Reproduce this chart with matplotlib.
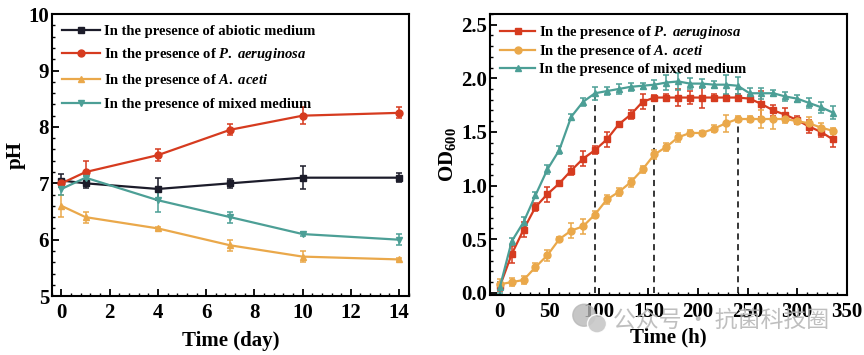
import matplotlib
matplotlib.use("Agg")
import matplotlib.pyplot as plt
from matplotlib.ticker import AutoMinorLocator
from matplotlib.patches import Ellipse

plt.rcParams['font.family'] = ['Liberation Serif', 'DejaVu Serif']
plt.rcParams['font.weight'] = 'bold'
plt.rcParams['axes.labelweight'] = 'bold'
plt.rcParams['mathtext.fontset'] = 'custom'
plt.rcParams['mathtext.rm'] = 'Liberation Serif:bold'
plt.rcParams['mathtext.it'] = 'Liberation Serif:bold:italic'
plt.rcParams['mathtext.bf'] = 'Liberation Serif:bold'
plt.rcParams['mathtext.default'] = 'rm'

BLACK = '#1c1c2a'
RED = '#d63b1f'
ORANGE = '#eaa84a'
TEAL = '#4c9f96'

# ---- pH data (left) ----
days = [0, 1, 4, 7, 10, 14]
ph_abiotic = [7.05, 7.0, 6.9, 7.0, 7.1, 7.1]
ph_abiotic_err = [0.12, 0.08, 0.2, 0.08, 0.2, 0.08]
ph_pa = [7.0, 7.2, 7.5, 7.95, 8.2, 8.25]
ph_pa_err = [0.05, 0.2, 0.1, 0.1, 0.15, 0.1]
ph_aa = [6.6, 6.4, 6.2, 5.9, 5.7, 5.65]
ph_aa_err = [0.2, 0.1, 0.03, 0.1, 0.1, 0.02]
ph_mix = [6.9, 7.1, 6.7, 6.4, 6.1, 6.0]
ph_mix_err = [0.1, 0.03, 0.2, 0.1, 0.03, 0.1]

# ---- OD600 data (right) ----
hours = [0, 12, 24, 36, 48, 60, 72, 84, 96, 108, 120, 132, 144, 156, 168,
         180, 192, 204, 216, 228, 240, 252, 264, 276, 288, 300, 312, 324, 336]
od_pa = [0.06, 0.36, 0.59, 0.80, 0.92, 1.02, 1.14, 1.25, 1.33, 1.43, 1.57, 1.66, 1.78, 1.82, 1.82,
         1.82, 1.82, 1.82, 1.82, 1.82, 1.82, 1.81, 1.76, 1.70, 1.66, 1.61, 1.55, 1.50, 1.43]
od_pa_err = [0.04, 0.08, 0.07, 0.04, 0.07, 0.02, 0.04, 0.07, 0.04, 0.07, 0.02, 0.04, 0.07, 0.02, 0.03,
             0.08, 0.06, 0.10, 0.03, 0.02, 0.03, 0.03, 0.12, 0.05, 0.06, 0.04, 0.06, 0.05, 0.07]
od_aa = [0.08, 0.10, 0.12, 0.24, 0.35, 0.50, 0.58, 0.62, 0.73, 0.87, 0.94, 1.03, 1.15, 1.29, 1.36,
         1.45, 1.49, 1.49, 1.53, 1.58, 1.62, 1.62, 1.62, 1.62, 1.62, 1.60, 1.58, 1.54, 1.51]
od_aa_err = [0.05, 0.04, 0.04, 0.04, 0.05, 0.02, 0.07, 0.07, 0.03, 0.04, 0.04, 0.04, 0.03, 0.04, 0.04,
             0.04, 0.03, 0.02, 0.03, 0.08, 0.03, 0.03, 0.08, 0.09, 0.04, 0.03, 0.06, 0.04, 0.03]
od_mix = [0.05, 0.48, 0.66, 0.91, 1.15, 1.33, 1.64, 1.78, 1.86, 1.88, 1.90, 1.92, 1.93, 1.94, 1.96,
          1.97, 1.95, 1.95, 1.94, 1.94, 1.93, 1.86, 1.86, 1.86, 1.83, 1.81, 1.77, 1.73, 1.68]
od_mix_err = [0.05, 0.03, 0.05, 0.03, 0.04, 0.04, 0.03, 0.04, 0.06, 0.04, 0.05, 0.04, 0.03, 0.04, 0.07,
              0.08, 0.05, 0.04, 0.03, 0.09, 0.08, 0.05, 0.05, 0.03, 0.04, 0.03, 0.05, 0.05, 0.06]

# dashed markers: (time, series)
dash_marks = [(96, od_mix), (156, od_pa), (240, od_aa)]

lab_pa = r'In the presence of $\it{P.}$ $\it{aeruginosa}$'
lab_aa = r'In the presence of $\it{A.}$ $\it{aceti}$'
lab_mix = 'In the presence of mixed medium'

fig = plt.figure(figsize=(8.64, 3.55), dpi=100)
ax1 = fig.add_axes([0.060, 0.166, 0.413, 0.794])
ax2 = fig.add_axes([0.567, 0.169, 0.413, 0.792])

eb = dict(lw=1.6, capsize=2.5, elinewidth=1.1, capthick=1.1, markersize=5)

c1 = ax1.errorbar(days, ph_abiotic, yerr=ph_abiotic_err, color=BLACK, marker='s', **eb)
c2 = ax1.errorbar(days, ph_pa, yerr=ph_pa_err, color=RED, marker='o', **eb)
c3 = ax1.errorbar(days, ph_aa, yerr=ph_aa_err, color=ORANGE, marker='^', **eb)
c4 = ax1.errorbar(days, ph_mix, yerr=ph_mix_err, color=TEAL, marker='v', **eb)

ax1.set_xlim(-0.4, 14.4)
ax1.set_ylim(5, 10)
ax1.set_xticks(range(0, 15, 2))
ax1.set_yticks(range(5, 11))
ax1.set_xlabel('Time (day)', fontsize=15, labelpad=6)
ax1.set_ylabel('pH', fontsize=15, labelpad=2)
ax1.legend([c1[0], c2[0], c3[0], c4[0]],
           ['In the presence of abiotic medium', lab_pa, lab_aa, lab_mix],
           loc='upper left', frameon=False, fontsize=10.5, handlelength=2.6,
           labelspacing=0.6, borderaxespad=0.3, handletextpad=0.3)

for t, s in dash_marks:
    ax2.plot([t, t], [0, s[hours.index(t)]], color='black', ls=(0, (4, 3)), lw=1.1, zorder=1)

d1 = ax2.errorbar(hours, od_pa, yerr=od_pa_err, color=RED, marker='s', **eb)
d2 = ax2.errorbar(hours, od_aa, yerr=od_aa_err, color=ORANGE, marker='o', **eb)
d3 = ax2.errorbar(hours, od_mix, yerr=od_mix_err, color=TEAL, marker='^', **eb)

ax2.set_xlim(-10, 350)
ax2.set_ylim(-0.02, 2.6)
ax2.set_xticks(range(0, 351, 50))
ax2.set_yticks([0.0, 0.5, 1.0, 1.5, 2.0, 2.5])
ax2.set_yticklabels(['0.0', '0.5', '1.0', '1.5', '2.0', '2.5'])
ax2.set_xlabel('Time (h)', fontsize=15, labelpad=4)
ax2.set_ylabel('OD$_{600}$', fontsize=15, labelpad=2)
ax2.legend([d1[0], d2[0], d3[0]], [lab_pa, lab_aa, lab_mix],
           loc='upper left', frameon=False, fontsize=10.5, handlelength=2.4,
           labelspacing=0.15, borderaxespad=0.3, handletextpad=0.3)

for ax in (ax1, ax2):
    for sp in ax.spines.values():
        sp.set_linewidth(1.5)
    ax.xaxis.set_minor_locator(AutoMinorLocator(5))
    ax.yaxis.set_minor_locator(AutoMinorLocator(5))
    ax.tick_params(which='major', direction='in', length=5, width=1.3, labelsize=15)
    ax.tick_params(axis='x', which='major', pad=5)
    ax.tick_params(axis='y', which='major', pad=2)
    ax.tick_params(which='minor', direction='in', length=2.5, width=1.0)
    for lab in ax.get_xticklabels() + ax.get_yticklabels():
        lab.set_fontweight('bold')

# watermark
fig.text(0.710, 0.098, '公众号 · 抗菌科技圈', fontsize=16.5, color='#b4b4b4', alpha=0.85,
         family=['Noto Sans CJK SC', 'DejaVu Sans'], fontweight='normal', va='center', ha='left')
fig.patches.append(Ellipse((0.676, 0.112), 0.026, 0.062, transform=fig.transFigure,
                           color='#b8b8b8', alpha=0.8))
fig.patches.append(Ellipse((0.691, 0.088), 0.022, 0.052, transform=fig.transFigure,
                           facecolor='#c8c8c8', edgecolor='white', lw=1.0, alpha=0.9))

fig.savefig('out.png', dpi=100)
